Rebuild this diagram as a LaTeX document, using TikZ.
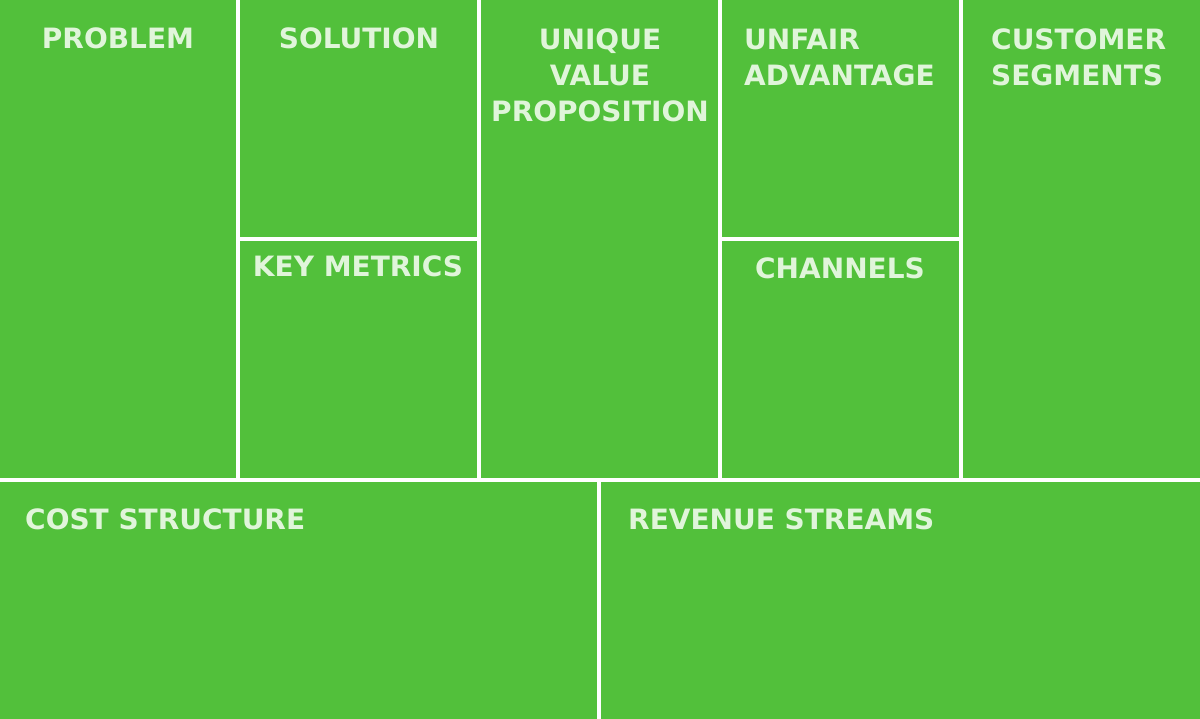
\documentclass[tikz,border=0pt]{standalone}
\usepackage{fontspec}
\setmainfont{DejaVu Sans}
\definecolor{cgreen}{HTML}{52C03B}
\definecolor{ctext}{HTML}{E0F5DA}
\begin{document}
\begin{tikzpicture}[x=1pt,y=-1pt,
  cell/.style={fill=cgreen,draw=white,line width=3.5pt},
  lbl/.style={text=ctext,font=\fontsize{28}{36}\selectfont\bfseries,inner sep=0pt,align=center}]
\useasboundingbox (0,0) rectangle (1200,719);
\fill[white] (0,0) rectangle (1200,719);
\draw[cell] (-2,-2) rectangle (238,480);
\draw[cell] (238,-2) rectangle (479,239);
\draw[cell] (238,239) rectangle (479,480);
\draw[cell] (479,-2) rectangle (720,480);
\draw[cell] (720,-2) rectangle (961,239);
\draw[cell] (720,239) rectangle (961,480);
\draw[cell] (961,-2) rectangle (1202,480);
\draw[cell] (-2,480) rectangle (599,721);
\draw[cell] (599,480) rectangle (1202,721);
\node[lbl,anchor=base] (problem) at (118,49) {PROBLEM};
\node[lbl,anchor=base] (solution) at (359,49) {SOLUTION};
\node[lbl,anchor=north] (uvp) at (600,29) {UNIQUE\\VALUE\\PROPOSITION};
\node[lbl,anchor=north west,align=left] (unfair) at (744,29) {UNFAIR\\ADVANTAGE};
\node[lbl,anchor=north west,align=left] (customer) at (991,29) {CUSTOMER\\SEGMENTS};
\node[lbl,anchor=base] (metrics) at (358,277) {KEY METRICS};
\node[lbl,anchor=base] (channels) at (840,279) {CHANNELS};
\node[lbl,anchor=base west] (cost) at (25,529) {COST STRUCTURE};
\node[lbl,anchor=base west] (revenue) at (628,529) {REVENUE STREAMS};
\end{tikzpicture}
\end{document}
